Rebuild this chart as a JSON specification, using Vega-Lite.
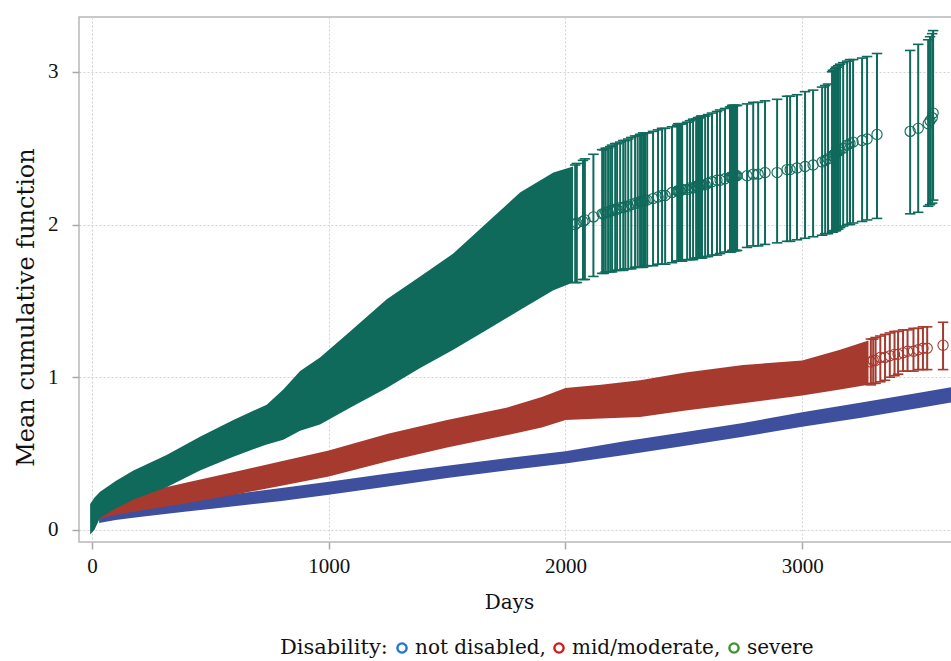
{
  "$schema": "https://vega.github.io/schema/vega-lite/v6.json",
  "autosize": {"type": "none"},
  "padding": {"left": 79, "top": 17, "right": 0, "bottom": 119},
  "width": 874,
  "height": 525,
  "background": "white",
  "config": {
    "view": {"stroke": "#b8b8b8", "strokeWidth": 1.5},
    "axis": {
      "grid": true,
      "gridColor": "#d2d2d2",
      "gridDash": [2, 2],
      "gridWidth": 1,
      "domain": false,
      "tickColor": "#a8a8a8",
      "tickSize": 7,
      "tickWidth": 1.5,
      "format": "d",
      "labelFont": "Liberation Serif",
      "labelFontSize": 21,
      "labelColor": "#111111",
      "titleFont": "DejaVu Serif",
      "titleFontWeight": "normal",
      "titleColor": "#111111"
    },
    "legend": {
      "labelFont": "DejaVu Serif",
      "labelFontSize": 20,
      "labelColor": "#111111",
      "titleFont": "DejaVu Serif",
      "titleFontSize": 21,
      "titleFontWeight": "normal",
      "titleColor": "#111111"
    }
  },
  "datasets": {
    "mcf": [
      {"series": "not disabled", "kind": "band", "day": 30, "lo": 0.045, "mcf": 0.08, "hi": 0.11},
      {"series": "not disabled", "kind": "band", "day": 100, "lo": 0.065, "mcf": 0.10, "hi": 0.135},
      {"series": "not disabled", "kind": "band", "day": 200, "lo": 0.085, "mcf": 0.12, "hi": 0.16},
      {"series": "not disabled", "kind": "band", "day": 400, "lo": 0.12, "mcf": 0.16, "hi": 0.20},
      {"series": "not disabled", "kind": "band", "day": 600, "lo": 0.155, "mcf": 0.195, "hi": 0.235},
      {"series": "not disabled", "kind": "band", "day": 800, "lo": 0.19, "mcf": 0.235, "hi": 0.275},
      {"series": "not disabled", "kind": "band", "day": 1000, "lo": 0.23, "mcf": 0.27, "hi": 0.315},
      {"series": "not disabled", "kind": "band", "day": 1250, "lo": 0.285, "mcf": 0.325, "hi": 0.37},
      {"series": "not disabled", "kind": "band", "day": 1500, "lo": 0.34, "mcf": 0.38, "hi": 0.42},
      {"series": "not disabled", "kind": "band", "day": 1750, "lo": 0.39, "mcf": 0.43, "hi": 0.47},
      {"series": "not disabled", "kind": "band", "day": 2000, "lo": 0.435, "mcf": 0.475, "hi": 0.515},
      {"series": "not disabled", "kind": "band", "day": 2250, "lo": 0.49, "mcf": 0.535, "hi": 0.58},
      {"series": "not disabled", "kind": "band", "day": 2500, "lo": 0.55, "mcf": 0.595, "hi": 0.64},
      {"series": "not disabled", "kind": "band", "day": 2750, "lo": 0.61, "mcf": 0.655, "hi": 0.70},
      {"series": "not disabled", "kind": "band", "day": 3000, "lo": 0.675, "mcf": 0.72, "hi": 0.77},
      {"series": "not disabled", "kind": "band", "day": 3250, "lo": 0.735, "mcf": 0.785, "hi": 0.835},
      {"series": "not disabled", "kind": "band", "day": 3500, "lo": 0.80, "mcf": 0.85, "hi": 0.90},
      {"series": "not disabled", "kind": "band", "day": 3650, "lo": 0.84, "mcf": 0.89, "hi": 0.94},

      {"series": "mid/moderate", "kind": "band", "day": 25, "lo": 0.07, "mcf": 0.12, "hi": 0.17},
      {"series": "mid/moderate", "kind": "band", "day": 100, "lo": 0.10, "mcf": 0.15, "hi": 0.205},
      {"series": "mid/moderate", "kind": "band", "day": 200, "lo": 0.125, "mcf": 0.18, "hi": 0.24},
      {"series": "mid/moderate", "kind": "band", "day": 400, "lo": 0.175, "mcf": 0.24, "hi": 0.31},
      {"series": "mid/moderate", "kind": "band", "day": 600, "lo": 0.23, "mcf": 0.30, "hi": 0.38},
      {"series": "mid/moderate", "kind": "band", "day": 800, "lo": 0.29, "mcf": 0.37, "hi": 0.45},
      {"series": "mid/moderate", "kind": "band", "day": 1000, "lo": 0.35, "mcf": 0.43, "hi": 0.52},
      {"series": "mid/moderate", "kind": "band", "day": 1250, "lo": 0.45, "mcf": 0.54, "hi": 0.63},
      {"series": "mid/moderate", "kind": "band", "day": 1500, "lo": 0.54, "mcf": 0.63, "hi": 0.72},
      {"series": "mid/moderate", "kind": "band", "day": 1750, "lo": 0.62, "mcf": 0.71, "hi": 0.80},
      {"series": "mid/moderate", "kind": "band", "day": 1900, "lo": 0.67, "mcf": 0.77, "hi": 0.87},
      {"series": "mid/moderate", "kind": "band", "day": 2000, "lo": 0.72, "mcf": 0.82, "hi": 0.93},
      {"series": "mid/moderate", "kind": "band", "day": 2150, "lo": 0.73, "mcf": 0.84, "hi": 0.95},
      {"series": "mid/moderate", "kind": "band", "day": 2315, "lo": 0.74, "mcf": 0.86, "hi": 0.98},
      {"series": "mid/moderate", "kind": "band", "day": 2500, "lo": 0.78, "mcf": 0.91, "hi": 1.03},
      {"series": "mid/moderate", "kind": "band", "day": 2750, "lo": 0.83, "mcf": 0.96, "hi": 1.08},
      {"series": "mid/moderate", "kind": "band", "day": 3000, "lo": 0.88, "mcf": 1.00, "hi": 1.11},
      {"series": "mid/moderate", "kind": "band", "day": 3160, "lo": 0.92, "mcf": 1.05, "hi": 1.18},
      {"series": "mid/moderate", "kind": "band", "day": 3280, "lo": 0.95, "mcf": 1.10, "hi": 1.24},
      {"series": "mid/moderate", "kind": "bar", "day": 3290, "lo": 0.95, "mcf": 1.10, "hi": 1.25},
      {"series": "mid/moderate", "kind": "bar", "day": 3300, "lo": 0.96, "mcf": 1.11, "hi": 1.25},
      {"series": "mid/moderate", "kind": "bar", "day": 3310, "lo": 0.96, "mcf": 1.11, "hi": 1.26},
      {"series": "mid/moderate", "kind": "bar", "day": 3330, "lo": 0.97, "mcf": 1.13, "hi": 1.27},
      {"series": "mid/moderate", "kind": "bar", "day": 3350, "lo": 0.98, "mcf": 1.13, "hi": 1.28},
      {"series": "mid/moderate", "kind": "bar", "day": 3370, "lo": 1.00, "mcf": 1.14, "hi": 1.29},
      {"series": "mid/moderate", "kind": "bar", "day": 3390, "lo": 1.01, "mcf": 1.15, "hi": 1.30},
      {"series": "mid/moderate", "kind": "bar", "day": 3405, "lo": 1.02, "mcf": 1.15, "hi": 1.30},
      {"series": "mid/moderate", "kind": "bar", "day": 3426, "lo": 1.04, "mcf": 1.16, "hi": 1.31},
      {"series": "mid/moderate", "kind": "bar", "day": 3445, "lo": 1.04, "mcf": 1.17, "hi": 1.31},
      {"series": "mid/moderate", "kind": "bar", "day": 3470, "lo": 1.04, "mcf": 1.17, "hi": 1.32},
      {"series": "mid/moderate", "kind": "bar", "day": 3490, "lo": 1.05, "mcf": 1.18, "hi": 1.32},
      {"series": "mid/moderate", "kind": "bar", "day": 3510, "lo": 1.05, "mcf": 1.19, "hi": 1.33},
      {"series": "mid/moderate", "kind": "bar", "day": 3528, "lo": 1.05, "mcf": 1.19, "hi": 1.33},
      {"series": "mid/moderate", "kind": "bar", "day": 3595, "lo": 1.05, "mcf": 1.21, "hi": 1.36},

      {"series": "severe", "kind": "band", "day": -8, "lo": -0.03, "mcf": 0.07, "hi": 0.17},
      {"series": "severe", "kind": "band", "day": 10, "lo": 0.0, "mcf": 0.10, "hi": 0.21},
      {"series": "severe", "kind": "band", "day": 34, "lo": 0.08, "mcf": 0.16, "hi": 0.25},
      {"series": "severe", "kind": "band", "day": 100, "lo": 0.14, "mcf": 0.23, "hi": 0.32},
      {"series": "severe", "kind": "band", "day": 175, "lo": 0.20, "mcf": 0.295, "hi": 0.39},
      {"series": "severe", "kind": "band", "day": 315, "lo": 0.28, "mcf": 0.385, "hi": 0.49},
      {"series": "severe", "kind": "band", "day": 456, "lo": 0.39, "mcf": 0.50, "hi": 0.61},
      {"series": "severe", "kind": "band", "day": 597, "lo": 0.48, "mcf": 0.60, "hi": 0.72},
      {"series": "severe", "kind": "band", "day": 738, "lo": 0.56, "mcf": 0.69, "hi": 0.82},
      {"series": "severe", "kind": "band", "day": 808, "lo": 0.59, "mcf": 0.75, "hi": 0.92},
      {"series": "severe", "kind": "band", "day": 879, "lo": 0.65, "mcf": 0.845, "hi": 1.04},
      {"series": "severe", "kind": "band", "day": 963, "lo": 0.69, "mcf": 0.91, "hi": 1.13},
      {"series": "severe", "kind": "band", "day": 1090, "lo": 0.80, "mcf": 1.05, "hi": 1.30},
      {"series": "severe", "kind": "band", "day": 1245, "lo": 0.93, "mcf": 1.22, "hi": 1.51},
      {"series": "severe", "kind": "band", "day": 1386, "lo": 1.06, "mcf": 1.36, "hi": 1.66},
      {"series": "severe", "kind": "band", "day": 1526, "lo": 1.18, "mcf": 1.50, "hi": 1.81},
      {"series": "severe", "kind": "band", "day": 1667, "lo": 1.31, "mcf": 1.66, "hi": 2.01},
      {"series": "severe", "kind": "band", "day": 1808, "lo": 1.44, "mcf": 1.82, "hi": 2.21},
      {"series": "severe", "kind": "band", "day": 1949, "lo": 1.57, "mcf": 1.95, "hi": 2.34},
      {"series": "severe", "kind": "band", "day": 2032, "lo": 1.62, "mcf": 2.00, "hi": 2.38},
      {"series": "severe", "kind": "bar", "day": 2041, "lo": 1.62, "mcf": 2.00, "hi": 2.39},
      {"series": "severe", "kind": "bar", "day": 2048, "lo": 1.62, "mcf": 2.01, "hi": 2.40},
      {"series": "severe", "kind": "bar", "day": 2074, "lo": 1.64, "mcf": 2.02, "hi": 2.42},
      {"series": "severe", "kind": "bar", "day": 2082, "lo": 1.64, "mcf": 2.03, "hi": 2.43},
      {"series": "severe", "kind": "bar", "day": 2118, "lo": 1.66, "mcf": 2.05, "hi": 2.46},
      {"series": "severe", "kind": "bar", "day": 2155, "lo": 1.68, "mcf": 2.07, "hi": 2.49},
      {"series": "severe", "kind": "bar", "day": 2162, "lo": 1.68, "mcf": 2.07, "hi": 2.49},
      {"series": "severe", "kind": "bar", "day": 2170, "lo": 1.69, "mcf": 2.08, "hi": 2.50},
      {"series": "severe", "kind": "bar", "day": 2180, "lo": 1.69, "mcf": 2.08, "hi": 2.50},
      {"series": "severe", "kind": "bar", "day": 2189, "lo": 1.69, "mcf": 2.09, "hi": 2.51},
      {"series": "severe", "kind": "bar", "day": 2197, "lo": 1.69, "mcf": 2.09, "hi": 2.52},
      {"series": "severe", "kind": "bar", "day": 2210, "lo": 1.70, "mcf": 2.10, "hi": 2.53},
      {"series": "severe", "kind": "bar", "day": 2218, "lo": 1.70, "mcf": 2.10, "hi": 2.53},
      {"series": "severe", "kind": "bar", "day": 2231, "lo": 1.70, "mcf": 2.11, "hi": 2.54},
      {"series": "severe", "kind": "bar", "day": 2244, "lo": 1.70, "mcf": 2.11, "hi": 2.55},
      {"series": "severe", "kind": "bar", "day": 2253, "lo": 1.71, "mcf": 2.12, "hi": 2.55},
      {"series": "severe", "kind": "bar", "day": 2265, "lo": 1.71, "mcf": 2.12, "hi": 2.56},
      {"series": "severe", "kind": "bar", "day": 2278, "lo": 1.71, "mcf": 2.13, "hi": 2.57},
      {"series": "severe", "kind": "bar", "day": 2294, "lo": 1.72, "mcf": 2.14, "hi": 2.58},
      {"series": "severe", "kind": "bar", "day": 2305, "lo": 1.72, "mcf": 2.14, "hi": 2.58},
      {"series": "severe", "kind": "bar", "day": 2315, "lo": 1.72, "mcf": 2.15, "hi": 2.59},
      {"series": "severe", "kind": "bar", "day": 2321, "lo": 1.72, "mcf": 2.15, "hi": 2.59},
      {"series": "severe", "kind": "bar", "day": 2328, "lo": 1.72, "mcf": 2.15, "hi": 2.60},
      {"series": "severe", "kind": "bar", "day": 2336, "lo": 1.73, "mcf": 2.16, "hi": 2.60},
      {"series": "severe", "kind": "bar", "day": 2345, "lo": 1.73, "mcf": 2.16, "hi": 2.60},
      {"series": "severe", "kind": "bar", "day": 2370, "lo": 1.73, "mcf": 2.17, "hi": 2.61},
      {"series": "severe", "kind": "bar", "day": 2391, "lo": 1.74, "mcf": 2.18, "hi": 2.62},
      {"series": "severe", "kind": "bar", "day": 2408, "lo": 1.74, "mcf": 2.19, "hi": 2.63},
      {"series": "severe", "kind": "bar", "day": 2421, "lo": 1.74, "mcf": 2.19, "hi": 2.63},
      {"series": "severe", "kind": "bar", "day": 2450, "lo": 1.75, "mcf": 2.21, "hi": 2.64},
      {"series": "severe", "kind": "bar", "day": 2472, "lo": 1.76, "mcf": 2.22, "hi": 2.65},
      {"series": "severe", "kind": "bar", "day": 2476, "lo": 1.76, "mcf": 2.22, "hi": 2.66},
      {"series": "severe", "kind": "bar", "day": 2480, "lo": 1.76, "mcf": 2.22, "hi": 2.66},
      {"series": "severe", "kind": "bar", "day": 2484, "lo": 1.76, "mcf": 2.22, "hi": 2.66},
      {"series": "severe", "kind": "bar", "day": 2489, "lo": 1.76, "mcf": 2.23, "hi": 2.66},
      {"series": "severe", "kind": "bar", "day": 2493, "lo": 1.76, "mcf": 2.23, "hi": 2.66},
      {"series": "severe", "kind": "bar", "day": 2514, "lo": 1.77, "mcf": 2.23, "hi": 2.67},
      {"series": "severe", "kind": "bar", "day": 2526, "lo": 1.77, "mcf": 2.24, "hi": 2.68},
      {"series": "severe", "kind": "bar", "day": 2539, "lo": 1.77, "mcf": 2.24, "hi": 2.69},
      {"series": "severe", "kind": "bar", "day": 2552, "lo": 1.78, "mcf": 2.25, "hi": 2.69},
      {"series": "severe", "kind": "bar", "day": 2556, "lo": 1.78, "mcf": 2.25, "hi": 2.69},
      {"series": "severe", "kind": "bar", "day": 2560, "lo": 1.78, "mcf": 2.25, "hi": 2.70},
      {"series": "severe", "kind": "bar", "day": 2565, "lo": 1.78, "mcf": 2.26, "hi": 2.70},
      {"series": "severe", "kind": "bar", "day": 2569, "lo": 1.78, "mcf": 2.26, "hi": 2.70},
      {"series": "severe", "kind": "bar", "day": 2573, "lo": 1.78, "mcf": 2.26, "hi": 2.71},
      {"series": "severe", "kind": "bar", "day": 2577, "lo": 1.78, "mcf": 2.26, "hi": 2.71},
      {"series": "severe", "kind": "bar", "day": 2590, "lo": 1.79, "mcf": 2.26, "hi": 2.71},
      {"series": "severe", "kind": "bar", "day": 2602, "lo": 1.79, "mcf": 2.27, "hi": 2.72},
      {"series": "severe", "kind": "bar", "day": 2619, "lo": 1.80, "mcf": 2.28, "hi": 2.73},
      {"series": "severe", "kind": "bar", "day": 2640, "lo": 1.80, "mcf": 2.29, "hi": 2.74},
      {"series": "severe", "kind": "bar", "day": 2653, "lo": 1.81, "mcf": 2.29, "hi": 2.75},
      {"series": "severe", "kind": "bar", "day": 2674, "lo": 1.82, "mcf": 2.30, "hi": 2.76},
      {"series": "severe", "kind": "bar", "day": 2695, "lo": 1.82, "mcf": 2.31, "hi": 2.77},
      {"series": "severe", "kind": "bar", "day": 2700, "lo": 1.82, "mcf": 2.31, "hi": 2.77},
      {"series": "severe", "kind": "bar", "day": 2704, "lo": 1.83, "mcf": 2.31, "hi": 2.78},
      {"series": "severe", "kind": "bar", "day": 2708, "lo": 1.83, "mcf": 2.31, "hi": 2.78},
      {"series": "severe", "kind": "bar", "day": 2712, "lo": 1.83, "mcf": 2.32, "hi": 2.78},
      {"series": "severe", "kind": "bar", "day": 2716, "lo": 1.83, "mcf": 2.32, "hi": 2.78},
      {"series": "severe", "kind": "bar", "day": 2720, "lo": 1.83, "mcf": 2.32, "hi": 2.78},
      {"series": "severe", "kind": "bar", "day": 2725, "lo": 1.83, "mcf": 2.32, "hi": 2.78},
      {"series": "severe", "kind": "bar", "day": 2767, "lo": 1.85, "mcf": 2.32, "hi": 2.79},
      {"series": "severe", "kind": "bar", "day": 2793, "lo": 1.86, "mcf": 2.33, "hi": 2.80},
      {"series": "severe", "kind": "bar", "day": 2814, "lo": 1.86, "mcf": 2.33, "hi": 2.80},
      {"series": "severe", "kind": "bar", "day": 2843, "lo": 1.87, "mcf": 2.34, "hi": 2.81},
      {"series": "severe", "kind": "bar", "day": 2894, "lo": 1.88, "mcf": 2.34, "hi": 2.82},
      {"series": "severe", "kind": "bar", "day": 2936, "lo": 1.89, "mcf": 2.36, "hi": 2.84},
      {"series": "severe", "kind": "bar", "day": 2949, "lo": 1.89, "mcf": 2.36, "hi": 2.84},
      {"series": "severe", "kind": "bar", "day": 2978, "lo": 1.90, "mcf": 2.37, "hi": 2.85},
      {"series": "severe", "kind": "bar", "day": 3012, "lo": 1.91, "mcf": 2.38, "hi": 2.87},
      {"series": "severe", "kind": "bar", "day": 3046, "lo": 1.92, "mcf": 2.39, "hi": 2.88},
      {"series": "severe", "kind": "bar", "day": 3084, "lo": 1.93, "mcf": 2.41, "hi": 2.90},
      {"series": "severe", "kind": "bar", "day": 3097, "lo": 1.94, "mcf": 2.42, "hi": 2.91},
      {"series": "severe", "kind": "bar", "day": 3109, "lo": 1.94, "mcf": 2.43, "hi": 2.92},
      {"series": "severe", "kind": "bar", "day": 3126, "lo": 1.95, "mcf": 2.45, "hi": 3.00},
      {"series": "severe", "kind": "bar", "day": 3130, "lo": 1.95, "mcf": 2.45, "hi": 3.01},
      {"series": "severe", "kind": "bar", "day": 3135, "lo": 1.96, "mcf": 2.46, "hi": 3.01},
      {"series": "severe", "kind": "bar", "day": 3139, "lo": 1.96, "mcf": 2.46, "hi": 3.02},
      {"series": "severe", "kind": "bar", "day": 3143, "lo": 1.96, "mcf": 2.47, "hi": 3.03},
      {"series": "severe", "kind": "bar", "day": 3147, "lo": 1.97, "mcf": 2.47, "hi": 3.03},
      {"series": "severe", "kind": "bar", "day": 3152, "lo": 1.97, "mcf": 2.48, "hi": 3.04},
      {"series": "severe", "kind": "bar", "day": 3160, "lo": 1.98, "mcf": 2.49, "hi": 3.05},
      {"series": "severe", "kind": "bar", "day": 3173, "lo": 1.99, "mcf": 2.50, "hi": 3.06},
      {"series": "severe", "kind": "bar", "day": 3190, "lo": 2.00, "mcf": 2.52, "hi": 3.07},
      {"series": "severe", "kind": "bar", "day": 3202, "lo": 2.00, "mcf": 2.53, "hi": 3.08},
      {"series": "severe", "kind": "bar", "day": 3215, "lo": 2.01, "mcf": 2.54, "hi": 3.08},
      {"series": "severe", "kind": "bar", "day": 3253, "lo": 2.02, "mcf": 2.55, "hi": 3.09},
      {"series": "severe", "kind": "bar", "day": 3274, "lo": 2.03, "mcf": 2.56, "hi": 3.10},
      {"series": "severe", "kind": "bar", "day": 3316, "lo": 2.04, "mcf": 2.59, "hi": 3.12},
      {"series": "severe", "kind": "bar", "day": 3456, "lo": 2.07, "mcf": 2.61, "hi": 3.14},
      {"series": "severe", "kind": "bar", "day": 3490, "lo": 2.08, "mcf": 2.63, "hi": 3.18},
      {"series": "severe", "kind": "bar", "day": 3532, "lo": 2.12, "mcf": 2.66, "hi": 3.21},
      {"series": "severe", "kind": "bar", "day": 3540, "lo": 2.13, "mcf": 2.68, "hi": 3.23},
      {"series": "severe", "kind": "bar", "day": 3549, "lo": 2.14, "mcf": 2.70, "hi": 3.25},
      {"series": "severe", "kind": "bar", "day": 3553, "lo": 2.16, "mcf": 2.73, "hi": 3.27}
    ]
  },
  "data": {"name": "mcf"},
  "encoding": {
    "x": {
      "field": "day", "type": "quantitative",
      "scale": {"domain": [-55, 3637], "nice": false, "zero": false},
      "axis": {"values": [0, 1000, 2000, 3000], "title": "Days", "labelPadding": 6,
               "titleFontSize": 20,
               "titleX": 430, "titleY": 66, "titleBaseline": "alphabetic", "titleAnchor": null}
    }
  },
  "layer": [
    {
      "transform": [{"filter": "datum.series == 'not disabled' && datum.kind == 'band'"}],
      "mark": {"type": "area", "color": "#3e4f9e", "clip": true},
      "encoding": {
        "y": {"field": "lo", "type": "quantitative",
              "scale": {"domain": [-0.079, 3.359], "nice": false, "zero": false},
              "axis": {"values": [0, 1, 2, 3], "title": "Mean cumulative function", "labelPadding": 14,
                       "titleFontSize": 24,
                       "titleX": -46, "titleY": 290, "titleAngle": -90, "titleAlign": "center",
                       "titleBaseline": "alphabetic"}},
        "y2": {"field": "hi"}
      }
    },
    {
      "transform": [{"filter": "datum.series == 'mid/moderate' && datum.kind == 'band'"}],
      "mark": {"type": "area", "color": "#a63a2f", "clip": true},
      "encoding": {"y": {"field": "lo", "type": "quantitative"}, "y2": {"field": "hi"}}
    },
    {
      "transform": [{"filter": "datum.series == 'severe' && datum.kind == 'band'"}],
      "mark": {"type": "area", "color": "#106a5c", "clip": true},
      "encoding": {"y": {"field": "lo", "type": "quantitative"}, "y2": {"field": "hi"}}
    },
    {
      "transform": [{"filter": "datum.kind == 'bar'"}],
      "mark": {"type": "rule", "strokeWidth": 2, "clip": true},
      "encoding": {
        "y": {"field": "lo", "type": "quantitative"},
        "y2": {"field": "hi"},
        "stroke": {"field": "series", "type": "nominal",
                   "scale": {"domain": ["mid/moderate", "severe"], "range": ["#a63a2f", "#106a5c"]},
                   "legend": null}
      }
    },
    {
      "transform": [{"filter": "datum.kind == 'bar'"}, {"fold": ["lo", "hi"], "as": ["end", "value"]}],
      "mark": {"type": "point", "shape": "M-1,0H1", "size": 110, "filled": false, "strokeWidth": 1.6, "opacity": 1, "clip": true},
      "encoding": {
        "y": {"field": "value", "type": "quantitative"},
        "stroke": {"field": "series", "type": "nominal", "legend": null}
      }
    },
    {
      "transform": [{"filter": "datum.kind == 'bar'"}],
      "mark": {"type": "point", "shape": "circle", "size": 105, "filled": false, "strokeWidth": 1.1, "opacity": 1, "clip": true},
      "encoding": {
        "y": {"field": "mcf", "type": "quantitative"},
        "stroke": {"field": "series", "type": "nominal", "legend": null}
      }
    },
    {
      "transform": [{"filter": "false"}],
      "mark": {"type": "point", "shape": "circle", "filled": false, "strokeWidth": 2.4},
      "encoding": {
        "y": {"field": "mcf", "type": "quantitative"},
        "color": {
          "field": "series", "type": "nominal",
          "scale": {"domain": ["not disabled", "mid/moderate", "severe"], "range": ["#1f74d0", "#d11a1a", "#3f9232"]},
          "legend": {
            "title": "Disability:",
            "orient": "none",
            "legendX": 201,
            "legendY": 621,
            "direction": "horizontal",
            "titleOrient": "left",
            "titlePadding": 4,
            "titleBaseline": "middle",
            "symbolType": "circle",
            "symbolSize": 85,
            "symbolStrokeWidth": 2.4,
            "symbolOpacity": 1,
            "labelOffset": 3,
            "columnPadding": 3,
            "labelLimit": 400,
            "labelExpr": "datum.label == 'severe' ? datum.label : datum.label + ','"
          }
        }
      }
    }
  ]
}
